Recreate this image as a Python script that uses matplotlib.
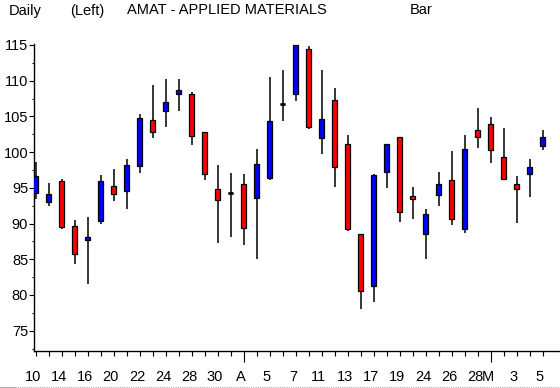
import matplotlib
matplotlib.use("Agg")
import matplotlib.pyplot as plt
from matplotlib.lines import Line2D
from matplotlib.ticker import MultipleLocator

plt.rcParams['font.family'] = ['Liberation Sans Narrow', 'Liberation Sans', 'DejaVu Sans']

# ---- data ----
opens = [94.3, 93.0, 96.0, 89.6, 87.7, 90.4, 95.3, 94.6, 98.1, 104.5,
         105.7, 108.2, 108.1, 102.8, 94.8, 94.3, 95.6, 93.6, 96.4, 106.8,
         108.2, 114.5, 102.0, 107.25, 101.1, 88.5, 81.3, 97.25, 102.1, 93.8,
         88.5, 94.0, 96.05, 89.3, 103.1, 103.9, 99.3, 95.6, 97.0, 100.8]
closes = [96.6, 94.1, 89.5, 85.8, 88.1, 96.0, 94.2, 98.2, 104.8, 102.8,
          107.0, 108.7, 102.3, 97.0, 93.3, 94.3, 89.4, 98.3, 104.35, 106.8,
          115.0, 103.5, 104.7, 97.9, 89.3, 80.5, 96.75, 101.1, 91.65, 93.4,
          91.4, 95.5, 90.7, 100.4, 102.1, 100.25, 96.3, 94.8, 97.9, 102.1]
highs = [98.6, 95.7, 96.2, 90.5, 90.9, 96.75, 97.7, 99.0, 105.3, 109.4,
         110.2, 110.2, 108.4, 102.8, 98.2, 97.1, 96.9, 100.4, 110.5, 111.5,
         115.0, 114.85, 111.5, 109.0, 102.4, 88.5, 96.9, 101.2, 102.1, 95.1,
         92.1, 97.2, 100.15, 102.35, 106.2, 104.9, 103.4, 96.65, 99.0, 103.1]
lows = [93.5, 92.4, 89.3, 84.3, 81.5, 89.9, 93.15, 92.1, 97.1, 102.0,
        103.55, 105.7, 101.0, 96.1, 87.3, 88.15, 87.0, 85.1, 96.1, 104.4,
        107.2, 103.3, 99.8, 95.15, 89.0, 78.1, 79.05, 95.0, 90.25, 90.7,
        85.1, 92.5, 89.85, 88.7, 100.6, 98.5, 96.1, 90.1, 93.75, 100.3]

date_labels = ["10", "14", "16", "20", "22", "24", "28", "30", "A", "5", "7",
               "11", "13", "17", "19", "24", "26", "28", "M", "3", "5"]
label_index = [0, 2, 4, 6, 8, 10, 12, 14, 16, 18, 20,
               22, 24, 26, 28, 30, 32, 34, 35, 37, 39]
month_starts = [16, 35]
y_ticks = [75, 80, 85, 90, 95, 100, 105, 110, 115]

# ---- figure ----
W, H = 560, 388
fig = plt.figure(figsize=(W / 100, H / 100), dpi=100)
fig.patch.set_facecolor('white')
ax = fig.add_axes([34 / W, (H - 350.7) / H, 1 - 34 / W, (350.7 - 44) / H])

n = len(opens)
xs = list(range(n))
colors = []
for o, c in zip(opens, closes):
    if c > o:
        colors.append('#0000FF')
    elif c < o:
        colors.append('#FF0000')
    else:
        colors.append('black')

ax.vlines(xs, lows, highs, color='black', linewidth=1.1, zorder=2)
heights = [c - o for o, c in zip(opens, closes)]
ax.bar(xs, heights, bottom=opens, width=0.4, color=colors,
       edgecolor='black', linewidth=0.9, zorder=3)
doji = [i for i in xs if opens[i] == closes[i]]
ax.hlines([opens[i] for i in doji], [i - 0.2 for i in doji],
          [i + 0.2 for i in doji], color='black', linewidth=2, zorder=4)

ax.set_xlim(-0.13, 40.33)
ax.set_ylim(72.2, 115.14)

for s in ['top', 'right']:
    ax.spines[s].set_visible(False)
for s in ['left', 'bottom']:
    ax.spines[s].set_linewidth(1.0)
    ax.spines[s].set_color('black')

ax.set_yticks(y_ticks)
ax.set_yticklabels([str(v) for v in y_ticks])
ax.yaxis.set_minor_locator(MultipleLocator(2.5))
ax.tick_params(axis='y', which='major', direction='out', length=3.4,
               width=0.8, pad=0.8, labelsize=10.5, colors='black')
ax.tick_params(axis='y', which='minor', direction='out', length=1.8, width=0.8)

ax.set_xticks(month_starts)
ax.set_xticklabels([])
ax.set_xticks([i for i in xs if i not in month_starts], minor=True)
ax.tick_params(axis='x', which='major', direction='out', length=8.2, width=0.8)
ax.tick_params(axis='x', which='minor', direction='out', length=3.6, width=0.8)

for lab, idx in zip(date_labels, label_index):
    ax.annotate(lab, xy=(idx, 0), xycoords=('data', 'axes fraction'),
                xytext=(-2, -19), textcoords='offset points',
                ha='center', va='center', fontsize=10.5, color='black',
                annotation_clip=False)

# ---- header texts ----
ty = 1 - 10.5 / H
fig.text(9 / W, ty, "Daily", ha='left', va='center', fontsize=10.5)
fig.text(70 / W, ty, "(Left)", ha='left', va='center', fontsize=10.5)
fig.text(127 / W, ty, "AMAT - APPLIED MATERIALS", ha='left', va='center', fontsize=10.5)
fig.text(410 / W, ty, "Bar", ha='left', va='center', fontsize=10.5)

# faint window border at the bottom
fig.add_artist(Line2D([0, 15 / W], [1.5 / H, 1.5 / H], color='#b0b0b0', linewidth=0.8))
fig.add_artist(Line2D([15 / W, 1], [1.5 / H, 1.5 / H], color='#b0b0b0',
                      linewidth=0.8, linestyle=(0, (1, 1))))

fig.savefig('out.png', dpi=100, facecolor='white')
